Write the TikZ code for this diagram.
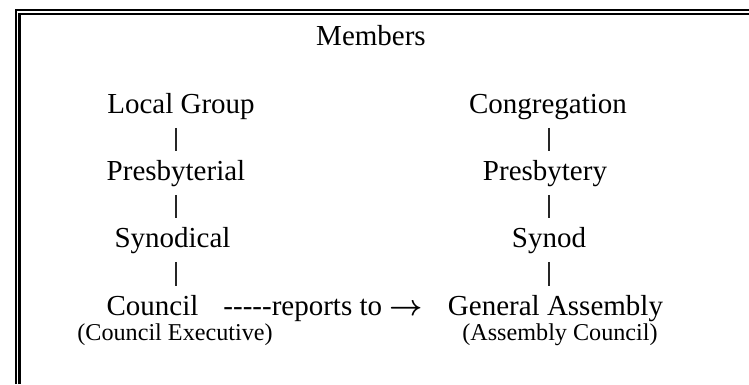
\documentclass[tikz,border=0pt]{standalone}
\usepackage{fontspec}
\setmainfont{Liberation Serif}
\usetikzlibrary{positioning}

\tikzset{
  bar/.style={line width=0.45pt,black!85,shorten <=3.4pt,shorten >=3.6pt},
  frame/.style={line width=0.85pt}
}

\begin{document}
\begin{tikzpicture}[x=0.4138pt,y=-0.4138pt]
  \useasboundingbox (0,0) rectangle (749,384);
  % double frame, runs off at right and bottom
  \draw[frame] (16,384) -- (16,10) -- (749,10);
  \draw[frame] (19.5,384) -- (19.5,14) -- (749,14);

\begin{scope}[every node/.style={inner sep=0pt,anchor=base,font=\fontsize{12}{14}\selectfont}]
  \node (members) at (371,45) {Members};
  \node (lg) at (181,113) {Local Group};
  \node (pres) at (176,180) {Presbyterial};
  \node (syn) at (172.5,247) {Synodical};
  \node (cncl) at (152.5,315) {Council};
  \node (cong) at (548,113) {Congregation};
  \node (pby) at (545,180) {Presbytery};
  \node (synod) at (549,247) {Synod};
  \node (ga) at (555.5,315) {General Assembly};
  \node[anchor=base west] (rep) at (223,315) {-{}-{}-{}-{}-reports to {\boldmath$\rightarrow$}};
  \node[font=\fontsize{10}{12}\selectfont] (cexec) at (175,340) {(Council Executive)};
  \node[font=\fontsize{10}{12}\selectfont] (acncl) at (560,340) {(Assembly Council)};
\end{scope}

  \coordinate (lbar) at (176,0);
  \coordinate (rbar) at (549,0);
  \foreach \a/\b in {lg/pres,pres/syn,syn/cncl} {
    \draw[bar] (lbar |- \a.south) -- (lbar |- \b.north);
  }
  \foreach \a/\b in {cong/pby,pby/synod,synod/ga} {
    \draw[bar] (rbar |- \a.south) -- (rbar |- \b.north);
  }

\end{tikzpicture}
\end{document}
